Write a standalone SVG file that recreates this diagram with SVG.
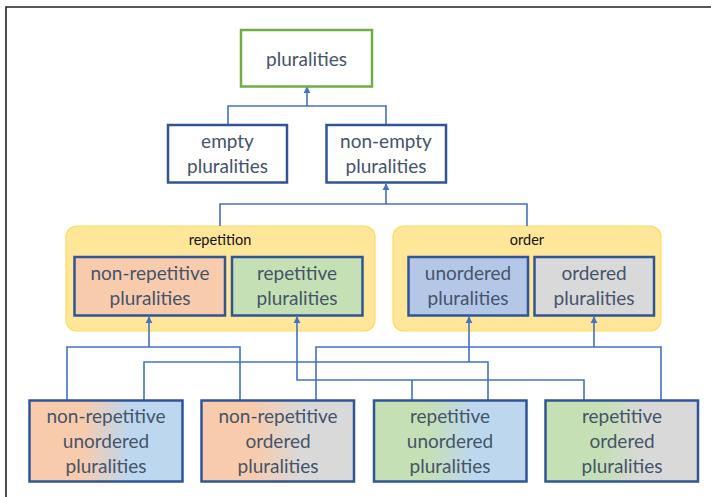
<svg xmlns="http://www.w3.org/2000/svg" width="711" height="497" viewBox="0 0 711 497">
  <style>
    .box { stroke: #2F5597; stroke-width: 2.5; }
    .lbl { font-family: Lato, "Open Sans", sans-serif; font-size: 19px; fill: #44546A; text-anchor: middle; }
    .cap { font-family: Lato, "Open Sans", sans-serif; font-size: 14.5px; fill: #111; text-anchor: middle; }
    .group { fill: #FFE699; stroke: #FFD966; stroke-width: 1.2; }
    .wire { fill: none; stroke: #4472C4; stroke-width: 1.6; }
  </style>
  <defs>
    <marker id="arrow" viewBox="0 0 10 10" refX="9" refY="5" markerWidth="4.5" markerHeight="4.5" orient="auto">
      <path d="M0,0 L10,5 L0,10 z" fill="#4472C4"/>
    </marker>
    <linearGradient id="g-nr-un" x1="0" y1="0" x2="1" y2="0">
      <stop offset="0.35" stop-color="#F8CBAD"/>
      <stop offset="0.65" stop-color="#BDD7EE"/>
    </linearGradient>
    <linearGradient id="g-nr-or" x1="0" y1="0" x2="1" y2="0">
      <stop offset="0.35" stop-color="#F8CBAD"/>
      <stop offset="0.65" stop-color="#D9D9D9"/>
    </linearGradient>
    <linearGradient id="g-r-un" x1="0" y1="0" x2="1" y2="0">
      <stop offset="0.35" stop-color="#C5E0B4"/>
      <stop offset="0.65" stop-color="#BDD7EE"/>
    </linearGradient>
    <linearGradient id="g-r-or" x1="0" y1="0" x2="1" y2="0">
      <stop offset="0.35" stop-color="#C5E0B4"/>
      <stop offset="0.65" stop-color="#D9D9D9"/>
    </linearGradient>
  </defs>

  <rect width="711" height="497" fill="#fff"/>
  <!-- frame -->
  <path d="M6,497 V7 H711" fill="none" stroke="#222" stroke-width="1.6"/>

  <!-- category containers -->
  <g id="repetition">
    <rect class="group" x="66" y="226" width="309" height="105" rx="11"/>
    <text class="cap" x="220" y="245">repetition</text>
  </g>
  <g id="order">
    <rect class="group" x="393" y="226" width="268" height="105" rx="11"/>
    <text class="cap" x="527" y="245">order</text>
  </g>

  <!-- connectors: each path ends in the arrow that enters the parent -->
  <g id="connectors">
    <path class="wire" d="M228,125 V106 H386 V125 M307,106 V87" marker-end="url(#arrow)"/>
    <path class="wire" d="M220,226 V204 H527 V226 M386,204 V184" marker-end="url(#arrow)"/>
    <path class="wire" d="M67,400 V347 H240 V400 M149,347 V317" marker-end="url(#arrow)"/>
    <path class="wire" d="M316,400 V347 H661 V400 M594,347 V317" marker-end="url(#arrow)"/>
    <path class="wire" d="M144,400 V362 H488 V400 M469,362 V317" marker-end="url(#arrow)"/>
    <path class="wire" d="M412,400 V380 M584,400 V380 H297 V317" marker-end="url(#arrow)"/>
  </g>

  <g id="pluralities">
    <rect x="241" y="30" width="131" height="56.5" fill="#fff" stroke="#70AD47" stroke-width="2.5"/>
    <text class="lbl" x="306.5" y="66">pluralities</text>
  </g>
  <g id="empty">
    <rect class="box" x="168" y="125" width="119" height="57.5" fill="#fff"/>
    <text class="lbl" x="227.5" y="148">empty</text>
    <text class="lbl" x="227.5" y="173">pluralities</text>
  </g>
  <g id="non-empty">
    <rect class="box" x="326.5" y="125" width="119.5" height="57.5" fill="#fff"/>
    <text class="lbl" x="386" y="148">non-empty</text>
    <text class="lbl" x="386" y="173">pluralities</text>
  </g>

  <g id="non-repetitive">
    <rect class="box" x="74.5" y="257" width="150.5" height="58.5" fill="#F8CBAD"/>
    <text class="lbl" x="150" y="280">non-repetitive</text>
    <text class="lbl" x="150" y="305">pluralities</text>
  </g>
  <g id="repetitive">
    <rect class="box" x="232" y="257" width="130.5" height="58.5" fill="#C5E0B4"/>
    <text class="lbl" x="297" y="280">repetitive</text>
    <text class="lbl" x="297" y="305">pluralities</text>
  </g>
  <g id="unordered">
    <rect class="box" x="408.5" y="257" width="119.5" height="58.5" fill="#B4C7E7"/>
    <text class="lbl" x="468" y="280">unordered</text>
    <text class="lbl" x="468" y="305">pluralities</text>
  </g>
  <g id="ordered">
    <rect class="box" x="534.5" y="257" width="119.5" height="58.5" fill="#D9D9D9"/>
    <text class="lbl" x="594" y="280">ordered</text>
    <text class="lbl" x="594" y="305">pluralities</text>
  </g>

  <g id="non-repetitive-unordered">
    <rect class="box" x="29.5" y="400.5" width="153" height="81" fill="url(#g-nr-un)"/>
    <text class="lbl" x="106" y="423">non-repetitive</text>
    <text class="lbl" x="106" y="448">unordered</text>
    <text class="lbl" x="106" y="473">pluralities</text>
  </g>
  <g id="non-repetitive-ordered">
    <rect class="box" x="201.5" y="400.5" width="152.5" height="81" fill="url(#g-nr-or)"/>
    <text class="lbl" x="278" y="423">non-repetitive</text>
    <text class="lbl" x="278" y="448">ordered</text>
    <text class="lbl" x="278" y="473">pluralities</text>
  </g>
  <g id="repetitive-unordered">
    <rect class="box" x="374" y="400.5" width="152.5" height="81" fill="url(#g-r-un)"/>
    <text class="lbl" x="450" y="423">repetitive</text>
    <text class="lbl" x="450" y="448">unordered</text>
    <text class="lbl" x="450" y="473">pluralities</text>
  </g>
  <g id="repetitive-ordered">
    <rect class="box" x="545.5" y="400.5" width="152.5" height="81" fill="url(#g-r-or)"/>
    <text class="lbl" x="622" y="423">repetitive</text>
    <text class="lbl" x="622" y="448">ordered</text>
    <text class="lbl" x="622" y="473">pluralities</text>
  </g>
</svg>
